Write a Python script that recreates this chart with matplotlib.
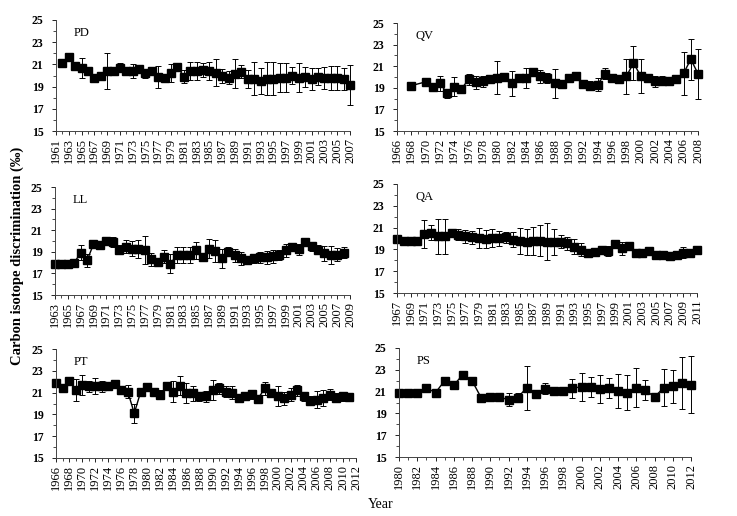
import matplotlib
matplotlib.use('Agg')
import matplotlib.pyplot as plt
from matplotlib.ticker import MultipleLocator

plt.rcParams['font.family'] = ['Liberation Serif', 'DejaVu Serif']

# ---- data ----
pd_years = list(range(1962, 2008))
pd_vals = [21.1, 21.7, 20.9, 20.7, 20.4, 19.75, 20.0, 20.4, 20.4, 20.7,
           20.4, 20.4, 20.55, 20.2, 20.4, 19.9, 19.8, 20.25, 20.8, 19.9,
           20.4, 20.4, 20.5, 20.4, 20.25, 19.95, 19.8, 20.15, 20.35, 19.7,
           19.7, 19.5, 19.7, 19.7, 19.8, 19.8, 20.0, 19.8, 19.9, 19.65,
           19.9, 19.8, 19.8, 19.8, 19.7, 19.15]
pd_err = [0.0, 0.0, 0.0, 0.9, 0.0, 0.3, 0.0, 1.6, 0.0, 0.4,
          0.0, 0.6, 0.0, 0.4, 0.0, 1.0, 0.3, 0.8, 0.3, 0.6,
          0.8, 0.8, 0.6, 0.8, 1.2, 0.6, 0.6, 1.3, 0.6, 0.8,
          1.5, 1.2, 1.5, 1.5, 1.3, 1.3, 0.8, 1.3, 0.9, 1.0,
          0.8, 1.0, 1.1, 1.1, 1.0, 1.8]

qv_years = [1968] + list(range(1970, 2009))
qv_vals = [19.2, 19.55, 19.05, 19.4, 18.5, 19.1, 18.9, 19.8, 19.5, 19.6,
           19.8, 19.95, 20.0, 19.4, 19.95, 19.9, 20.5, 20.05, 19.9, 19.4,
           19.35, 19.95, 20.05, 19.35, 19.2, 19.3, 20.3, 19.9, 19.85, 20.05,
           21.3, 20.1, 19.95, 19.6, 19.65, 19.65, 19.85, 20.35, 21.65, 20.3]
qv_err = [0.0, 0.0, 0.0, 0.7, 0.4, 0.9, 0.0, 0.5, 0.6, 0.5,
          0.0, 1.5, 0.0, 1.2, 0.0, 0.9, 0.0, 0.6, 0.5, 1.3,
          0.4, 0.3, 0.0, 0.3, 0.4, 0.6, 0.5, 0.3, 0.0, 1.6,
          1.6, 1.6, 0.3, 0.5, 0.4, 0.3, 0.0, 2.0, 1.9, 2.3]

ll_years = list(range(1963, 2009))
ll_vals = [17.83, 17.83, 17.83, 18.0, 18.9, 18.2, 19.7, 19.6, 20.0, 19.9,
           19.2, 19.45, 19.3, 19.25, 19.15, 18.3, 18.1, 18.55, 17.9, 18.7,
           18.7, 18.7, 19.15, 18.5, 19.3, 19.1, 18.4, 19.0, 18.7, 18.4,
           18.25, 18.4, 18.5, 18.5, 18.6, 18.7, 19.15, 19.45, 19.25, 19.9,
           19.5, 19.2, 18.85, 18.7, 18.75, 18.9]
ll_err = [0.0, 0.0, 0.0, 0.0, 0.7, 0.6, 0.2, 0.2, 0.3, 0.5,
          0.4, 0.6, 0.7, 0.8, 1.3, 0.6, 0.2, 0.6, 0.9, 0.7,
          0.7, 0.7, 0.8, 0.3, 0.9, 1.0, 0.9, 0.4, 0.6, 0.6,
          0.4, 0.4, 0.5, 0.6, 0.6, 0.5, 0.6, 0.4, 0.5, 0.2,
          0.4, 0.4, 0.7, 0.8, 0.6, 0.5]

qa_years = list(range(1967, 2012))
qa_vals = [19.95, 19.8, 19.8, 19.8, 20.4, 20.55, 20.2, 20.2, 20.5, 20.35,
           20.2, 20.1, 20.05, 19.95, 20.03, 20.03, 20.1, 19.9, 19.8, 19.7,
           19.8, 19.8, 19.7, 19.7, 19.7, 19.55, 19.25, 18.95, 18.7, 18.8,
           18.95, 18.85, 19.5, 19.1, 19.3, 18.7, 18.7, 18.85, 18.5, 18.5,
           18.4, 18.5, 18.7, 18.65, 18.95]
qa_err = [0.0, 0.0, 0.0, 0.0, 1.3, 0.7, 1.6, 1.6, 0.3, 0.5,
          0.6, 0.6, 0.9, 0.8, 0.8, 0.7, 0.5, 0.7, 1.2, 1.2,
          1.3, 1.4, 1.7, 1.2, 0.6, 0.6, 0.7, 0.6, 0.1, 0.0,
          0.0, 0.5, 0.0, 0.6, 0.0, 0.0, 0.3, 0.0, 0.0, 0.0,
          0.0, 0.0, 0.5, 0.3, 0.3]

pt_years = list(range(1966, 2012))
pt_vals = [21.9, 21.4, 22.1, 21.25, 21.7, 21.6, 21.6, 21.6, 21.6, 21.8,
           21.25, 21.1, 19.1, 21.1, 21.5, 21.1, 20.8, 21.65, 21.1, 21.65,
           20.95, 20.95, 20.65, 20.65, 21.25, 21.4, 21.1, 21.0, 20.5, 20.7,
           20.85, 20.45, 21.4, 21.0, 20.7, 20.5, 20.8, 21.2, 20.65, 20.25,
           20.35, 20.5, 20.8, 20.55, 20.65, 20.6]
pt_err = [0.3, 0.3, 0.0, 1.0, 0.9, 0.5, 0.7, 0.5, 0.0, 0.3,
          0.3, 0.6, 0.9, 0.0, 0.0, 0.3, 0.4, 0.0, 1.0, 0.9,
          0.9, 0.7, 0.4, 0.5, 0.9, 0.5, 0.5, 0.6, 0.3, 0.4,
          0.4, 0.0, 0.6, 0.0, 0.9, 0.6, 0.6, 0.5, 0.4, 0.4,
          0.8, 0.7, 0.5, 0.4, 0.4, 0.3]

ps_years = list(range(1980, 2013))
ps_vals = [20.9, 20.9, 20.9, 21.35, 20.9, 22.0, 21.6, 22.55, 22.0, 20.45,
           20.55, 20.5, 20.25, 20.45, 21.35, 20.8, 21.25, 21.1, 21.05, 21.3,
           21.45, 21.45, 21.25, 21.35, 21.05, 20.9, 21.35, 21.15, 20.5, 21.35,
           21.5, 21.8, 21.65]
ps_err = [0.0, 0.0, 0.0, 0.0, 0.0, 0.0, 0.0, 0.0, 0.0, 0.0,
          0.0, 0.0, 0.6, 0.4, 2.0, 0.1, 0.5, 0.3, 0.4, 0.9,
          1.3, 0.9, 1.3, 0.9, 1.6, 1.6, 1.8, 0.9, 0.0, 1.7,
          1.5, 2.4, 2.6]

panels = [
    # name, years, vals, err, (x0, x1, ytop, ybot) in pixels, xlim
    ('PD', pd_years, pd_vals, pd_err, (56, 350, 20, 131), (1961, 2007)),
    ('QV', qv_years, qv_vals, qv_err, (397, 698, 23, 131), (1966, 2008)),
    ('LL', ll_years, ll_vals, ll_err, (55, 350, 187, 295), (1963, 2009)),
    ('QA', qa_years, qa_vals, qa_err, (397, 697, 184, 293), (1967, 2011)),
    ('PT', pt_years, pt_vals, pt_err, (56, 356, 349, 458), (1966, 2012)),
    ('PS', ps_years, ps_vals, ps_err, (399, 691, 348, 457), (1980, 2012)),
]

W, H = 737, 516
fig = plt.figure(figsize=(W / 100, H / 100), dpi=100)

for name, yrs, vals, err, (x0, x1, yt, yb), xl in panels:
    ax = fig.add_axes([x0 / W, 1 - yb / H, (x1 - x0) / W, (yb - yt) / H])
    ax.errorbar(yrs, vals, yerr=err, color='black', lw=1.0, marker='s',
                markersize=6, elinewidth=0.7, capsize=2, capthick=0.7,
                clip_on=False)
    ax.set_xlim(*xl)
    ax.set_ylim(15, 25)
    ax.set_yticks([15, 17, 19, 21, 23, 25])
    ax.set_xticks(range(xl[0], xl[1] + 1, 2))
    ax.xaxis.set_minor_locator(MultipleLocator(1))
    ax.yaxis.set_minor_locator(MultipleLocator(1))
    ax.tick_params(axis='x', which='major', labelsize=9, rotation=90,
                   length=3, width=0.6, pad=2)
    ax.tick_params(axis='y', which='major', labelsize=8.5, length=3,
                   width=0.6, pad=6)
    ax.tick_params(which='minor', length=2, width=0.5)
    for s in ('top', 'right'):
        ax.spines[s].set_visible(False)
    for s in ('left', 'bottom'):
        ax.spines[s].set_color('#444444')
        ax.spines[s].set_linewidth(0.7)
    for lab in ax.get_yticklabels():
        lab.set_fontweight('bold')
    ax.text(0.06, 0.88, name, transform=ax.transAxes, fontsize=9,
            va='center', ha='left')

fig.text(17 / W, 1 - 256 / H, 'Carbon isotope discrimination (\u2030)',
         rotation=90, ha='center', va='center', fontsize=10.5,
         fontweight='bold')
fig.text(381 / W, 1 - 504 / H, 'Year', ha='center', va='center', fontsize=10)

fig.savefig('out.png', dpi=100)
